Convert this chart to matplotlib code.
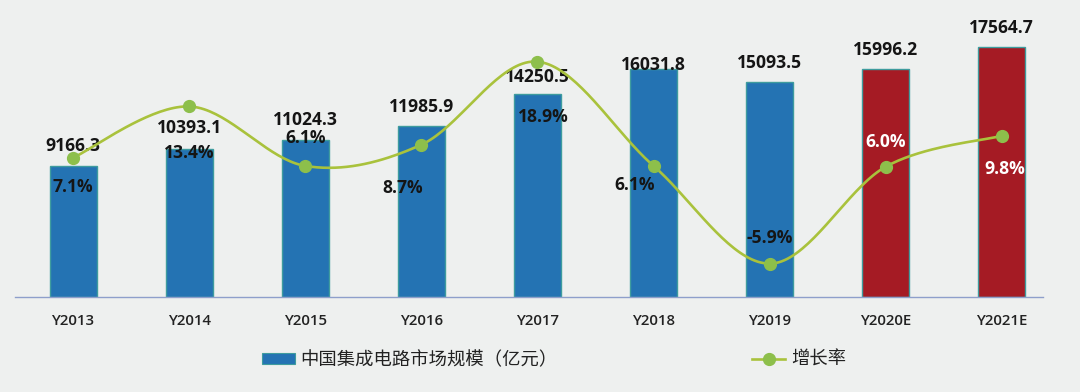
import numpy as np
import matplotlib
matplotlib.use("Agg")
import matplotlib.pyplot as plt
from matplotlib.patches import Patch
from matplotlib.lines import Line2D

# ---- data ----
categories = ["Y2013", "Y2014", "Y2015", "Y2016", "Y2017", "Y2018", "Y2019", "Y2020E", "Y2021E"]
market_size = [9166.3, 10393.1, 11024.3, 11985.9, 14250.5, 16031.8, 15093.5, 15996.2, 17564.7]
growth_rate = [7.1, 13.4, 6.1, 8.7, 18.9, 6.1, -5.9, 6.0, 9.8]
is_estimate = [False, False, False, False, False, False, False, True, True]
bar_label = "中国集成电路市场规模（亿元）"
line_label = "增长率"

# ---- style ----
BG = "#EEF0EF"
BLUE = "#2473B3"
RED = "#A51B24"
EDGE = "#3E9C9E"
LINE = "#A9C23C"
MARK = "#8DBF4B"
TXT = "#151515"
NUMFONT = ["Open Sans", "DejaVu Sans"]

plt.rcParams["font.family"] = ["Open Sans", "Noto Sans CJK SC", "DejaVu Sans"]

fig = plt.figure(figsize=(10.8, 3.92), dpi=100, facecolor=BG)
ax = fig.add_axes([15 / 1080, 1 - 297 / 392, 1028 / 1080, 285 / 392])
ax.set_facecolor(BG)
x = np.arange(len(categories))
colors = [RED if e else BLUE for e in is_estimate]
bars = ax.bar(x, market_size, width=0.405, color=colors, edgecolor=EDGE, linewidth=1.0, zorder=2)
ax.set_xlim(-0.5, 8.355)
ax.set_ylim(0, 20000)
ax.set_yticks([])
ax.set_xticks(x)
ax.set_xticklabels(categories, fontsize=10.8, fontweight="semibold", color="#222222", family=NUMFONT)
ax.tick_params(axis="x", length=0, pad=12)
for s in ["top", "left", "right"]:
    ax.spines[s].set_visible(False)
ax.spines["bottom"].set_color("#8E9FCB")
ax.spines["bottom"].set_linewidth(1.0)

# value labels above bars
val_dy = [20, 21, 20, 19, 17, 4, 19, 19, 19]
for xi, v, dy in zip(x, market_size, val_dy):
    ax.annotate(f"{v:.1f}", (xi, v), xytext=(0, dy), textcoords="offset pixels",
                ha="center", va="center", fontsize=12.6, fontweight="bold", color=TXT,
                family=NUMFONT, zorder=5)

# secondary axis: growth rate
ax2 = ax.twinx()
ax2.set_ylim(-10, 25)
ax2.set_yticks([])
for s in ax2.spines.values():
    s.set_visible(False)

# smooth curve (Bezier through points, Excel-like smoothing)
px = x.astype(float)
py = np.array(growth_rate, dtype=float)
n = len(px)
cx, cy = [], []
t = np.linspace(0, 1, 40)
for i in range(n - 1):
    p0 = np.array([px[i], py[i]])
    p3 = np.array([px[i + 1], py[i + 1]])
    pm = np.array([px[i - 1], py[i - 1]]) if i > 0 else p0
    pp = np.array([px[i + 2], py[i + 2]]) if i + 2 < n else p3
    c1 = p0 + (p3 - pm) / 6.0
    c2 = p3 - (pp - p0) / 6.0
    b = ((1 - t) ** 3)[:, None] * p0 + (3 * (1 - t) ** 2 * t)[:, None] * c1 + \
        (3 * (1 - t) * t ** 2)[:, None] * c2 + (t ** 3)[:, None] * p3
    cx.extend(b[:, 0]); cy.extend(b[:, 1])
ax2.plot(cx, cy, color=LINE, lw=1.9, zorder=3, solid_capstyle="round")
ax2.plot(px, py, ls="none", marker="o", ms=8.5, color=MARK, mec=MARK, zorder=4)

pct_off = [(0, -29), (0, -47), (0, 28), (-19, -43), (6, -55), (-19, -19), (0, 26), (0, 25), (3, -33)]
pct_col = [TXT] * 7 + ["white", "white"]
for xi, g, (dx, dy), c in zip(x, growth_rate, pct_off, pct_col):
    ax2.annotate(f"{g:.1f}%", (xi, g), xytext=(dx, dy), textcoords="offset pixels",
                 ha="center", va="center", fontsize=12.6, fontweight="bold", color=c,
                 family=NUMFONT, zorder=6)

handles = [Patch(facecolor=BLUE, edgecolor=EDGE, linewidth=0.8),
           Line2D([0], [0], color=LINE, lw=1.9, marker="o", ms=8.5, mfc=MARK, mec=MARK)]
leg = fig.legend(handles, [bar_label, line_label], loc="center", ncol=2,
                 bbox_to_anchor=(554 / 1080, 1 - 360 / 392), frameon=False,
                 prop={"family": ["Noto Sans CJK SC", "DejaVu Sans"], "size": 13.2},
                 handlelength=1.8, handleheight=0.6, handletextpad=0.3, columnspacing=10.6)
for txt in leg.get_texts():
    txt.set_color("#222222")

fig.savefig("out.png", dpi=100, facecolor=BG)
